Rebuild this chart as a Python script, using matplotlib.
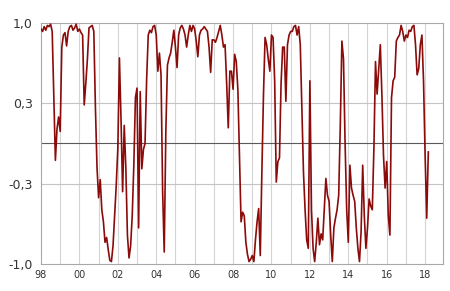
import matplotlib
matplotlib.use('Agg')
import matplotlib.pyplot as plt
import numpy as np

# monthly values, Jan 1998 .. Mar 2018
y1998 = [0.95, 0.93, 0.97, 0.94, 0.98, 0.97, 0.99, 0.93, 0.40, -0.14, 0.12, 0.22]
y1999 = [0.10, 0.80, 0.90, 0.92, 0.81, 0.93, 0.97, 0.98, 0.94, 0.96, 0.99, 0.93]
y2000 = [0.95, 0.92, 0.90, 0.32, 0.50, 0.70, 0.96, 0.97, 0.98, 0.93, 0.30, -0.20]
y2001 = [-0.45, -0.30, -0.55, -0.65, -0.82, -0.78, -0.88, -0.97, -0.98, -0.85, -0.60, -0.35]
y2002 = [-0.04, 0.71, 0.20, -0.40, 0.15, -0.20, -0.76, -0.95, -0.85, -0.60, -0.18, 0.38]
y2003 = [0.46, -0.70, 0.43, -0.21, -0.05, 0.00, 0.53, 0.90, 0.94, 0.92, 0.97, 0.98]
y2004 = [0.90, 0.60, 0.75, 0.57, -0.40, -0.90, 0.10, 0.65, 0.71, 0.75, 0.84, 0.94]
y2005 = [0.80, 0.63, 0.90, 0.96, 0.98, 0.95, 0.90, 0.80, 0.90, 0.98, 0.93, 0.98]
y2006 = [0.95, 0.85, 0.72, 0.90, 0.94, 0.95, 0.97, 0.95, 0.93, 0.80, 0.59, 0.86]
y2007 = [0.86, 0.84, 0.88, 0.93, 0.98, 0.90, 0.80, 0.82, 0.50, 0.13, 0.60, 0.60]
y2008 = [0.45, 0.74, 0.68, 0.45, -0.10, -0.65, -0.57, -0.60, -0.82, -0.92, -0.98, -0.96]
y2009 = [-0.93, -0.98, -0.80, -0.65, -0.54, -0.93, -0.24, 0.40, 0.88, 0.82, 0.70, 0.60]
y2010 = [0.90, 0.88, 0.52, -0.32, -0.15, -0.12, 0.50, 0.80, 0.80, 0.35, 0.82, 0.90]
y2011 = [0.93, 0.93, 0.97, 0.98, 0.90, 0.97, 0.82, 0.29, -0.24, -0.55, -0.80, -0.87]
y2012 = [0.52, -0.55, -0.87, -0.98, -0.82, -0.62, -0.84, -0.75, -0.80, -0.55, -0.29, -0.43]
y2013 = [-0.48, -0.76, -0.98, -0.70, -0.62, -0.55, -0.43, 0.15, 0.85, 0.70, 0.00, -0.55]
y2014 = [-0.82, -0.18, -0.37, -0.43, -0.48, -0.70, -0.87, -0.98, -0.73, -0.18, -0.60, -0.87]
y2015 = [-0.70, -0.46, -0.52, -0.55, -0.04, 0.68, 0.41, 0.62, 0.82, 0.40, -0.10, -0.37]
y2016 = [-0.15, -0.60, -0.76, 0.38, 0.52, 0.55, 0.85, 0.88, 0.90, 0.98, 0.93, 0.85]
y2017 = [0.90, 0.88, 0.94, 0.93, 0.97, 0.98, 0.82, 0.57, 0.62, 0.82, 0.90, 0.52]
y2018 = [-0.10, -0.62, -0.07]

values = (y1998 + y1999 + y2000 + y2001 + y2002 + y2003 + y2004 + y2005 + y2006
          + y2007 + y2008 + y2009 + y2010 + y2011 + y2012 + y2013 + y2014
          + y2015 + y2016 + y2017 + y2018)
dates = 1998 + np.arange(len(values)) / 12.0

ytick_pos = [-1.0, -1/3, 1/3, 1.0]
ytick_labels = ['-1,0', '-0,3', '0,3', '1,0']
xtick_years = list(range(1998, 2019, 2))
xtick_labels = ['%02d' % (y % 100) for y in xtick_years]

fig = plt.figure(figsize=(4.5, 2.91), dpi=100)
ax = fig.add_axes([0.0911, 0.0928, 0.8933, 0.8282])

for yr in range(1999, 2019):
    ax.axvline(yr, color='#d4d4d4', linewidth=0.8, zorder=1)
for v in [-1/3, 1/3]:
    ax.axhline(v, color='#c4c4c4', linewidth=0.8, zorder=1)
ax.axhline(0, color='#5a5a5a', linewidth=0.8, zorder=1)

ax.plot(dates, values, color='#8b0a0a', linewidth=1.2, zorder=3)

ax.set_xlim(1998, 2018.93)
ax.set_ylim(-1, 1)
ax.set_yticks(ytick_pos)
ax.set_yticklabels(ytick_labels, fontsize=9, color='#333333')
ax.set_xticks(xtick_years)
ax.set_xticklabels(xtick_labels, fontsize=7, color='#333333')
ax.tick_params(axis='both', length=0, pad=4)
ax.tick_params(axis='y', pad=6)

for s in ax.spines.values():
    s.set_color('#a8a8a8')
    s.set_linewidth(0.8)

fig.savefig('out.png', dpi=100)
